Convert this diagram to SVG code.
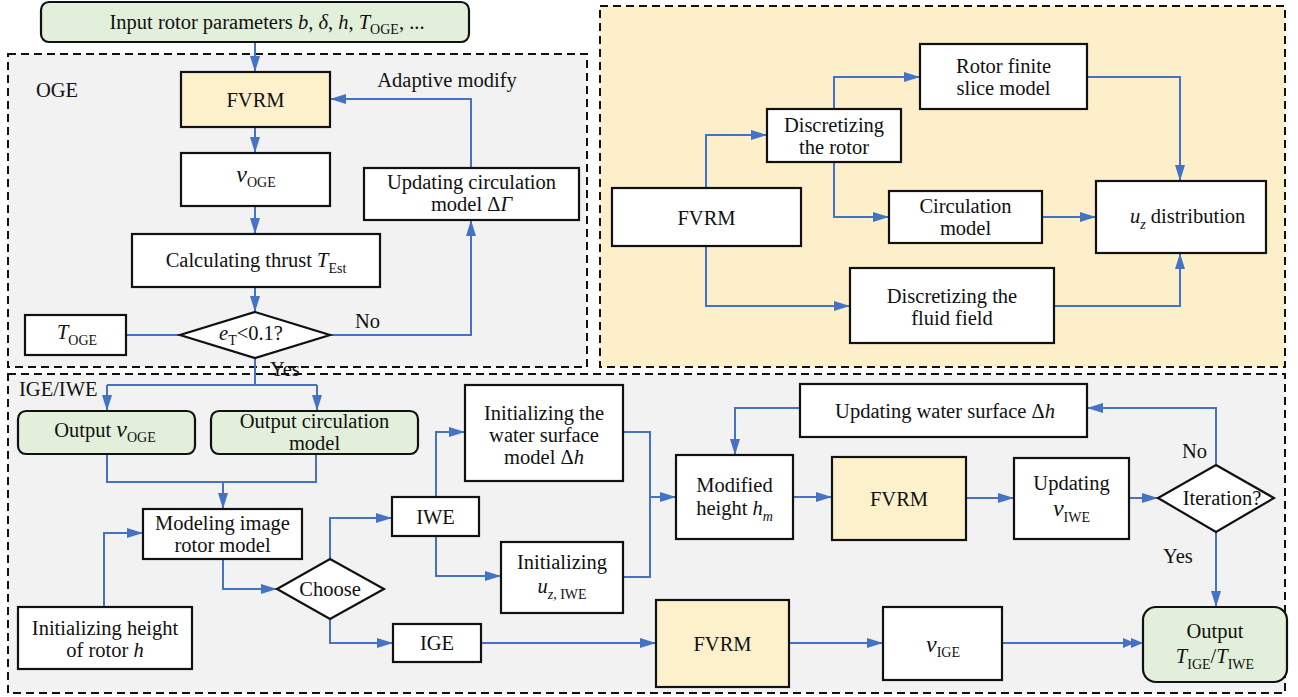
<svg xmlns="http://www.w3.org/2000/svg" width="1298" height="697" viewBox="0 0 1298 697">
<style>
.bg{fill:#ffffff}
.cont{fill:#f2f2f2;stroke:#111;stroke-width:2;stroke-dasharray:8 5}
.conty{fill:#fcefc9;stroke:#111;stroke-width:2;stroke-dasharray:8 5}
.box{fill:#ffffff;stroke:#111;stroke-width:2.2}
.yel{fill:#fdf1cc}
.grn{fill:#e2efda}
.t{font-family:"Liberation Serif",Tinos,"Times New Roman",Times,"Noto Serif","DejaVu Serif",serif;font-size:20.5px;fill:#111}
.c{text-anchor:middle}
.i{font-style:italic}
.s{font-size:14px}
.v{font-size:24px;font-style:italic}
.ln{fill:none;stroke:#4472c4;stroke-width:2}
</style>
<defs>
<marker id="a" markerUnits="userSpaceOnUse" markerWidth="16" markerHeight="10" refX="16" refY="5" orient="auto">
<path d="M0,0 L16,5 L0,10 z" fill="#4472c4"/>
</marker>
<marker id="a2" markerUnits="userSpaceOnUse" markerWidth="20" markerHeight="10" refX="20" refY="5" orient="auto">
<path d="M0,0 L12,5 L0,10 z M8,0 L20,5 L8,10 z" fill="#4472c4"/>
</marker>
</defs>
<rect class="bg" x="0" y="0" width="1298" height="697"/>

<!-- containers -->
<g id="containers">
<rect class="cont" x="8" y="54" width="579" height="313"/>
<rect class="conty" x="600" y="6" width="685" height="361"/>
<rect class="cont" x="8" y="374" width="1277" height="319"/>
<text class="t" x="36" y="97">OGE</text>
<text class="t" x="19" y="396">IGE/IWE</text>
</g>

<!-- connectors -->
<g id="connectors">
<path class="ln" d="M255,42 V72" marker-end="url(#a)"/>
<path class="ln" d="M255,127 V153" marker-end="url(#a)"/>
<path class="ln" d="M255,206 V234" marker-end="url(#a)"/>
<path class="ln" d="M255,287 V312" marker-end="url(#a)"/>
<path class="ln" d="M126,335 H180"/>
<path class="ln" d="M330,335 H471 V220" marker-end="url(#a)"/>
<path class="ln" d="M471,168 V99 H330" marker-end="url(#a)"/>
<path class="ln" d="M255,358 V385"/>
<path class="ln" d="M107,385 H317"/>
<path class="ln" d="M107,385 V411" marker-end="url(#a)"/>
<path class="ln" d="M317,385 V411" marker-end="url(#a)"/>
<path class="ln" d="M107,454 V482 H316 V454"/>
<path class="ln" d="M223,482 V509" marker-end="url(#a)"/>
<path class="ln" d="M104,607 V533 H143" marker-end="url(#a)"/>
<path class="ln" d="M223,559 V589 H277" marker-end="url(#a)"/>
<path class="ln" d="M330,559 V518 H392" marker-end="url(#a)"/>
<path class="ln" d="M330,619 V643 H393" marker-end="url(#a)"/>
<path class="ln" d="M436,497 V432 H465" marker-end="url(#a)"/>
<path class="ln" d="M436,536 V576 H501" marker-end="url(#a)"/>
<path class="ln" d="M623,432 H650 V577 H623"/>
<path class="ln" d="M650,497 H676" marker-end="url(#a)"/>
<path class="ln" d="M793,497 H832" marker-end="url(#a)"/>
<path class="ln" d="M966,498 H1014" marker-end="url(#a)"/>
<path class="ln" d="M1129,498 H1158" marker-end="url(#a)"/>
<path class="ln" d="M1216,465 V408 H1087" marker-end="url(#a)"/>
<path class="ln" d="M800,408 H735 V455" marker-end="url(#a)"/>
<path class="ln" d="M1216,532 V607" marker-end="url(#a)"/>
<path class="ln" d="M481,643 H656" marker-end="url(#a)"/>
<path class="ln" d="M789,643 H883" marker-end="url(#a)"/>
<path class="ln" d="M1002,643 H1143" marker-end="url(#a2)"/>
<path class="ln" d="M706,188 V135 H767" marker-end="url(#a)"/>
<path class="ln" d="M834,109 V77 H920" marker-end="url(#a)"/>
<path class="ln" d="M1087,77 H1180 V181" marker-end="url(#a)"/>
<path class="ln" d="M834,162 V217 H889" marker-end="url(#a)"/>
<path class="ln" d="M1042,217 H1096" marker-end="url(#a)"/>
<path class="ln" d="M706,246 V306 H850" marker-end="url(#a)"/>
<path class="ln" d="M1054,306 H1180 V253" marker-end="url(#a)"/>
<text class="t" x="447" y="87" text-anchor="middle">Adaptive modify</text>
<text class="t" x="355" y="328">No</text>
<text class="t" x="270" y="376">Yes</text>
<text class="t" x="1182" y="458">No</text>
<text class="t" x="1163" y="563">Yes</text>
</g>

<!-- OGE nodes -->
<g id="input">
<rect class="box grn" x="41" y="2" width="428" height="40" rx="8"/>
<text class="t c" x="267" y="29">Input rotor parameters <tspan class="i">b</tspan>, <tspan class="i">δ</tspan>, <tspan class="i">h</tspan>, <tspan class="i">T</tspan><tspan class="s" dy="5">OGE</tspan><tspan dy="-5">, ...</tspan></text>
</g>
<g id="fvrm-oge">
<rect class="box yel" x="181" y="72" width="149" height="55"/>
<text class="t c" x="255.5" y="107">FVRM</text>
</g>
<g id="v-oge">
<rect class="box" x="181" y="153" width="149" height="53"/>
<text class="t c" x="256" y="182"><tspan class="v">v</tspan><tspan class="s" dy="5">OGE</tspan></text>
</g>
<g id="calc-thrust">
<rect class="box" x="132" y="234" width="248" height="53"/>
<text class="t c" x="256" y="267">Calculating thrust <tspan class="i">T</tspan><tspan class="s" dy="6">Est</tspan></text>
</g>
<g id="eT-check">
<path class="box" d="M255,312 L330,335 L255,358 L180,335 Z"/>
<text class="t c" x="251" y="340"><tspan class="i">e</tspan><tspan class="s" dy="5">T</tspan><tspan dy="-5">&lt;0.1?</tspan></text>
</g>
<g id="t-oge">
<rect class="box" x="25" y="315" width="101" height="40"/>
<text class="t c" x="77" y="339"><tspan class="i">T</tspan><tspan class="s" dy="6">OGE</tspan></text>
</g>
<g id="update-circ">
<rect class="box" x="364" y="168" width="215" height="52"/>
<text class="t c" x="471.5" y="189">Updating circulation</text>
<text class="t c" x="471.5" y="211">model Δ<tspan class="i">Γ</tspan></text>
</g>

<!-- right section nodes -->
<g id="fvrm-r">
<rect class="box" x="612" y="188" width="189" height="58"/>
<text class="t c" x="706.5" y="225">FVRM</text>
</g>
<g id="disc-rotor">
<rect class="box" x="767" y="109" width="134" height="53"/>
<text class="t c" x="834" y="132">Discretizing</text>
<text class="t c" x="834" y="154">the rotor</text>
</g>
<g id="rotor-slice">
<rect class="box" x="920" y="44" width="167" height="65"/>
<text class="t c" x="1003.5" y="73">Rotor finite</text>
<text class="t c" x="1003.5" y="95">slice model</text>
</g>
<g id="circ-model">
<rect class="box" x="889" y="191" width="153" height="52"/>
<text class="t c" x="965.5" y="213">Circulation</text>
<text class="t c" x="965.5" y="235">model</text>
</g>
<g id="uz-dist">
<rect class="box" x="1096" y="181" width="170" height="72"/>
<text class="t" x="1130" y="223"><tspan class="i">u</tspan><tspan class="s i" dy="6">z</tspan><tspan dy="-6"> distribution</tspan></text>
</g>
<g id="disc-fluid">
<rect class="box" x="850" y="268" width="204" height="75"/>
<text class="t c" x="952" y="303">Discretizing the</text>
<text class="t c" x="952" y="325">fluid field</text>
</g>

<!-- IGE/IWE nodes -->
<g id="out-v-oge">
<rect class="box grn" x="18" y="411" width="177" height="43" rx="8"/>
<text class="t c" x="105" y="437">Output <tspan class="v">v</tspan><tspan class="s" dy="5">OGE</tspan></text>
</g>
<g id="out-circ">
<rect class="box grn" x="211" y="411" width="207" height="43" rx="8"/>
<text class="t c" x="314.5" y="428">Output circulation</text>
<text class="t c" x="314.5" y="450">model</text>
</g>
<g id="modeling-image">
<rect class="box" x="143" y="509" width="159" height="50"/>
<text class="t c" x="222.5" y="530">Modeling image</text>
<text class="t c" x="222.5" y="552">rotor model</text>
</g>
<g id="init-height">
<rect class="box" x="18" y="607" width="174" height="62"/>
<text class="t c" x="105" y="635">Initializing height</text>
<text class="t c" x="105" y="657">of rotor <tspan class="i">h</tspan></text>
</g>
<g id="choose">
<path class="box" d="M330,559 L384,589 L330,619 L277,589 Z"/>
<text class="t c" x="330" y="596">Choose</text>
</g>
<g id="iwe">
<rect class="box" x="392" y="497" width="87" height="39"/>
<text class="t c" x="435.5" y="524">IWE</text>
</g>
<g id="ige">
<rect class="box" x="393" y="624" width="88" height="38"/>
<text class="t c" x="437" y="650">IGE</text>
</g>
<g id="init-water">
<rect class="box" x="465" y="385" width="158" height="96"/>
<text class="t c" x="544" y="420">Initializing the</text>
<text class="t c" x="544" y="442">water surface</text>
<text class="t c" x="544" y="464">model Δ<tspan class="i">h</tspan></text>
</g>
<g id="init-uz">
<rect class="box" x="501" y="542" width="122" height="71"/>
<text class="t c" x="562" y="569">Initializing</text>
<text class="t c" x="562" y="593"><tspan class="i">u</tspan><tspan class="s" dy="6"><tspan class="i">z</tspan>, IWE</tspan></text>
</g>
<g id="modified-height">
<rect class="box" x="676" y="455" width="117" height="84"/>
<text class="t c" x="734.5" y="492">Modified</text>
<text class="t c" x="734.5" y="515">height <tspan class="i">h</tspan><tspan class="s i" dy="6">m</tspan></text>
</g>
<g id="fvrm-iwe">
<rect class="box yel" x="832" y="457" width="134" height="83"/>
<text class="t c" x="899" y="506">FVRM</text>
</g>
<g id="update-v-iwe">
<rect class="box" x="1014" y="458" width="115" height="81"/>
<text class="t c" x="1071.5" y="490">Updating</text>
<text class="t c" x="1071.5" y="516"><tspan class="v">v</tspan><tspan class="s" dy="6">IWE</tspan></text>
</g>
<g id="iteration">
<path class="box" d="M1216,465 L1274,498 L1216,532 L1158,498 Z"/>
<text class="t c" x="1222" y="505">Iteration?</text>
</g>
<g id="update-water">
<rect class="box" x="800" y="384" width="287" height="53"/>
<text class="t c" x="945" y="418">Updating water surface Δ<tspan class="i">h</tspan></text>
</g>
<g id="fvrm-ige">
<rect class="box yel" x="656" y="600" width="133" height="87"/>
<text class="t c" x="722.5" y="651">FVRM</text>
</g>
<g id="v-ige">
<rect class="box" x="883" y="607" width="119" height="73"/>
<text class="t c" x="943" y="652"><tspan class="v">v</tspan><tspan class="s" dy="5">IGE</tspan></text>
</g>
<g id="output-t">
<rect class="box grn" x="1143" y="607" width="144" height="75" rx="13"/>
<text class="t c" x="1215" y="638">Output</text>
<text class="t c" x="1215" y="663"><tspan class="i">T</tspan><tspan class="s" dy="6">IGE</tspan><tspan dy="-6">/</tspan><tspan class="i">T</tspan><tspan class="s" dy="6">IWE</tspan></text>
</g>
</svg>
